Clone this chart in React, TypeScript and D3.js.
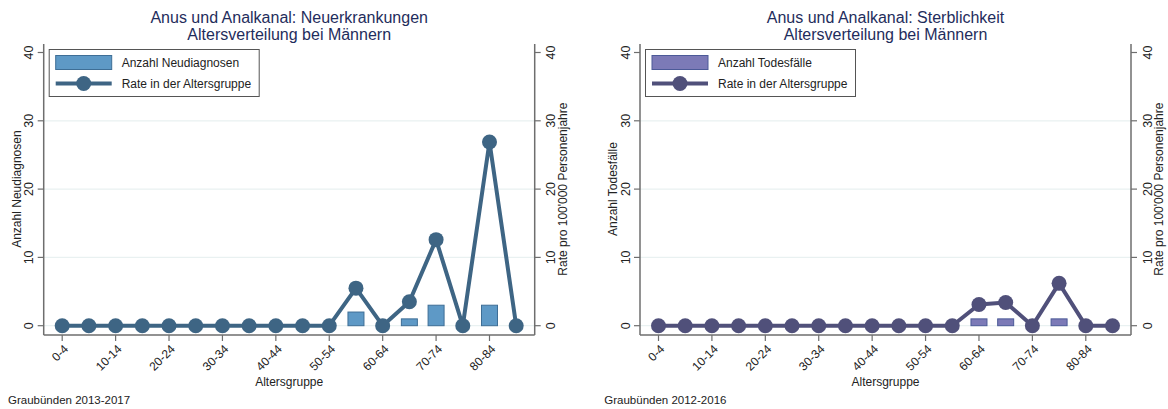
import React from "react";
import * as d3 from "d3";

const ageGroups = ["0-4","5-9","10-14","15-19","20-24","25-29","30-34","35-39","40-44","45-49","50-54","55-59","60-64","65-69","70-74","75-79","80-84","85+"];
const shownTicks = ["0-4","10-14","20-24","30-34","40-44","50-54","60-64","70-74","80-84"];
const yTicks = [0, 10, 20, 30, 40];
const gridTicks = [0, 10, 20, 30];

const incidenceCounts = [0,0,0,0,0,0,0,0,0,0,0,2,0,1,3,0,3,0];
const incidenceRates = [0,0,0,0,0,0,0,0,0,0,0,5.5,0,3.5,12.6,0,26.9,0];
const mortalityCounts = [0,0,0,0,0,0,0,0,0,0,0,0,1,1,0,1,0,0];
const mortalityRates = [0,0,0,0,0,0,0,0,0,0,0,0,3.1,3.4,0,6.2,0,0];

const FONT = "'Liberation Sans', Arial, sans-serif";

type PanelProps = {
  left: number;
  title1: string;
  title2: string;
  counts: number[];
  rates: number[];
  countLabel: string;
  leftTitle: string;
  barFill: string;
  barStroke: string;
  lineColor: string;
  note: string;
};

function Panel(p: PanelProps) {
  const L = p.left;
  const R = L + 491;
  const top = 44;
  const bottom = 335;
  const x = d3.scaleLinear().domain([0, ageGroups.length - 1]).range([L + 18.5, R - 18.5]);
  const y = d3.scaleLinear().domain([0, 40]).range([325.7, 52.5]);
  const cx = (L + R) / 2;
  const line = d3.line<number>().x((_, i) => x(i)).y((d) => y(d));
  const barW = 16;
  const axisColor = "#6e6e6e";
  const textColor = "#222";
  return (
    <g fontFamily={FONT}>
      <text x={cx} y={23} textAnchor="middle" fontSize={16} fill="#1f2d5c">{p.title1}</text>
      <text x={cx} y={39.5} textAnchor="middle" fontSize={16} fill="#1f2d5c">{p.title2}</text>
      {gridTicks.map((t) => (
        <line key={"g" + t} x1={L} x2={R} y1={y(t)} y2={y(t)} stroke="#e9f1f1" strokeWidth={1.2} />
      ))}
      <line x1={L} x2={L} y1={top} y2={bottom} stroke={axisColor} strokeWidth={1.5} />
      <line x1={R} x2={R} y1={top} y2={bottom} stroke={axisColor} strokeWidth={1.5} />
      <line x1={L} x2={R} y1={bottom} y2={bottom} stroke={axisColor} strokeWidth={1.5} />
      {yTicks.map((t) => (
        <g key={"yt" + t}>
          <line x1={L - 6} x2={L} y1={y(t)} y2={y(t)} stroke={axisColor} strokeWidth={1.2} />
          <text transform={`translate(${L - 10.5},${y(t)}) rotate(-90)`} textAnchor="middle" fontSize={12.5} fill={textColor}>{t}</text>
          <line x1={R} x2={R + 6} y1={y(t)} y2={y(t)} stroke={axisColor} strokeWidth={1.2} />
          <text transform={`translate(${R + 20.5},${y(t)}) rotate(-90)`} textAnchor="middle" fontSize={12.5} fill={textColor}>{t}</text>
        </g>
      ))}
      {ageGroups.map((g, i) =>
        shownTicks.includes(g) ? (
          <g key={"xt" + g}>
            <line x1={x(i)} x2={x(i)} y1={bottom} y2={bottom + 6} stroke={axisColor} strokeWidth={1.2} />
            <text transform={`translate(${x(i) + 4},${bottom + 12}) rotate(-45)`} textAnchor="end" dominantBaseline="central" fontSize={12} fill={textColor}>{g}</text>
          </g>
        ) : null
      )}
      <text x={cx} y={386} textAnchor="middle" fontSize={12} fill={textColor}>Altersgruppe</text>
      <text transform={`translate(${L - 23},${(y(0) + y(40)) / 2}) rotate(-90)`} textAnchor="middle" fontSize={12} fill={textColor}>{p.leftTitle}</text>
      <text transform={`translate(${R + 32},${(y(0) + y(40)) / 2}) rotate(-90)`} textAnchor="middle" fontSize={12} fill={textColor}>Rate pro 100'000 Personenjahre</text>
      {p.counts.map((c, i) =>
        c > 0 ? (
          <rect key={"b" + i} x={x(i) - barW / 2} y={y(c)} width={barW} height={y(0) - y(c)} fill={p.barFill} stroke={p.barStroke} strokeWidth={1} />
        ) : null
      )}
      <path d={line(p.rates) || ""} fill="none" stroke={p.lineColor} strokeWidth={4} strokeLinejoin="round" />
      {p.rates.map((r, i) => (
        <circle key={"c" + i} cx={x(i)} cy={y(r)} r={7.5} fill={p.lineColor} />
      ))}
      <rect x={L + 5.5} y={49.5} width={210} height={47} fill="#fff" stroke="#555" strokeWidth={1} />
      <rect x={L + 12} y={55.5} width={56} height={14} fill={p.barFill} stroke={p.barStroke} strokeWidth={1} />
      <line x1={L + 12} x2={L + 68} y1={83.5} y2={83.5} stroke={p.lineColor} strokeWidth={4} />
      <circle cx={L + 40} cy={83.5} r={7.5} fill={p.lineColor} />
      <text x={L + 78} y={66.5} fontSize={12} fill={textColor}>{p.countLabel}</text>
      <text x={L + 78} y={88} fontSize={12} fill={textColor}>Rate in der Altersgruppe</text>
      <text x={L - 35.7} y={404} fontSize={11.5} fill={textColor}>{p.note}</text>
    </g>
  );
}

export default function App() {
  return (
    <svg width={1168} height={409} style={{ display: "block", position: "absolute", left: 0, top: 0, background: "#fff" }}>
      <rect width={1168} height={409} fill="#fff" />
      <Panel left={43.7} title1="Anus und Analkanal: Neuerkrankungen" title2="Altersverteilung bei Männern"
        counts={incidenceCounts} rates={incidenceRates} countLabel="Anzahl Neudiagnosen" leftTitle="Anzahl Neudiagnosen"
        barFill="#5e99c6" barStroke="#3e6e96" lineColor="#3e6584" note="Graubünden 2013-2017" />
      <Panel left={640} title1="Anus und Analkanal: Sterblichkeit" title2="Altersverteilung bei Männern"
        counts={mortalityCounts} rates={mortalityRates} countLabel="Anzahl Todesfälle" leftTitle="Anzahl Todesfälle"
        barFill="#7c7ab7" barStroke="#4c5a98" lineColor="#50507a" note="Graubünden 2012-2016" />
    </svg>
  );
}
